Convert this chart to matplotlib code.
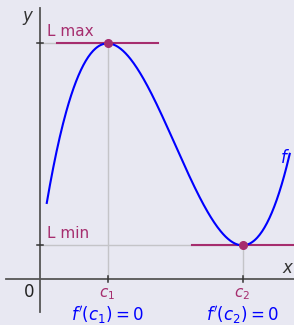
import numpy as np
import matplotlib.pyplot as plt

plt.rcParams['mathtext.fontset'] = 'dejavusans'

# critical points
c1, c2 = 1.0, 3.0
l_max, l_min = 3.5, 0.5
x_start, x_end = 0.1, 3.7
tangent_half = 0.75

bg = '#e8e8f2'
magenta = '#a62d6e'
blue = '#0000ff'
axis_col = '#555555'
guide_col = '#c4c4c8'

fig = plt.figure(figsize=(2.94, 3.25), dpi=100, facecolor=bg)
ax = fig.add_axes([0, 0, 1, 1])
ax.set_facecolor(bg)
ax.set_xlim(-0.593, 3.763)
ax.set_ylim(-0.683, 4.145)
ax.axis('off')

# cubic with f'(c1) = f'(c2) = 0, f(c1) = l_max, f(c2) = l_min
k = (l_max - l_min) / ((c1**3 - c2**3) / 3 - (c1 + c2) / 2 * (c1**2 - c2**2) + c1 * c2 * (c1 - c2))
def f(x):
    F = lambda t: t**3 / 3 - (c1 + c2) / 2 * t**2 + c1 * c2 * t
    return l_min + k * (F(x) - F(c2))

xs = np.linspace(x_start, x_end, 300)

# guides
ax.plot([c1, c1], [0, l_max], color=guide_col, lw=1, zorder=1)
ax.plot([c2, c2], [0, l_min], color=guide_col, lw=1, zorder=1)
ax.plot([0, c1], [l_max, l_max], color=guide_col, lw=1, zorder=1)
ax.plot([0, c2], [l_min, l_min], color=guide_col, lw=1, zorder=1)

# axes
ax.plot([-0.5, 3.763], [0, 0], color=axis_col, lw=1.3, zorder=2)
ax.plot([0, 0], [-0.49, 4.02], color=axis_col, lw=1.3, zorder=2)
for c in (c1, c2):
    ax.plot([c, c], [-0.05, 0.05], color='#333333', lw=1.1, zorder=2)
for l in (l_max, l_min):
    ax.plot([-0.05, 0.05], [l, l], color='#333333', lw=1.1, zorder=2)

# tangents
ax.plot([c1 - tangent_half, c1 + tangent_half], [l_max, l_max], color=magenta, lw=1.5, zorder=3)
ax.plot([c2 - tangent_half, c2 + tangent_half], [l_min, l_min], color=magenta, lw=1.5, zorder=3)

ax.plot(xs, f(xs), color=blue, lw=1.5, zorder=4)
ax.plot([c1, c2], [l_max, l_min], 'o', color=magenta, ms=5.5, zorder=5)

# labels
ax.text(-0.08, 3.88, '$y$', fontsize=12, color='#333333', ha='right', va='center')
ax.text(3.58, 0.16, '$x$', fontsize=12, color='#333333', ha='left', va='center')
ax.text(-0.08, -0.19, '0', fontsize=12, color='#222222', ha='right', va='center')
ax.text(3.55, 1.8, '$f$', fontsize=12, color=blue, ha='left', va='center')
ax.text(0.1, 3.67, 'L max', fontsize=11, color=magenta, ha='left', va='center')
ax.text(0.1, 0.67, 'L min', fontsize=11, color=magenta, ha='left', va='center')
ax.text(c1, -0.22, '$c_1$', fontsize=11, color=magenta, ha='center', va='center')
ax.text(c2, -0.22, '$c_2$', fontsize=11, color=magenta, ha='center', va='center')
ax.text(c1, -0.53, "$f'(c_1) = 0$", fontsize=12, color=blue, ha='center', va='center')
ax.text(c2, -0.53, "$f'(c_2) = 0$", fontsize=12, color=blue, ha='center', va='center')

fig.savefig('out.png', dpi=100, facecolor=bg)
